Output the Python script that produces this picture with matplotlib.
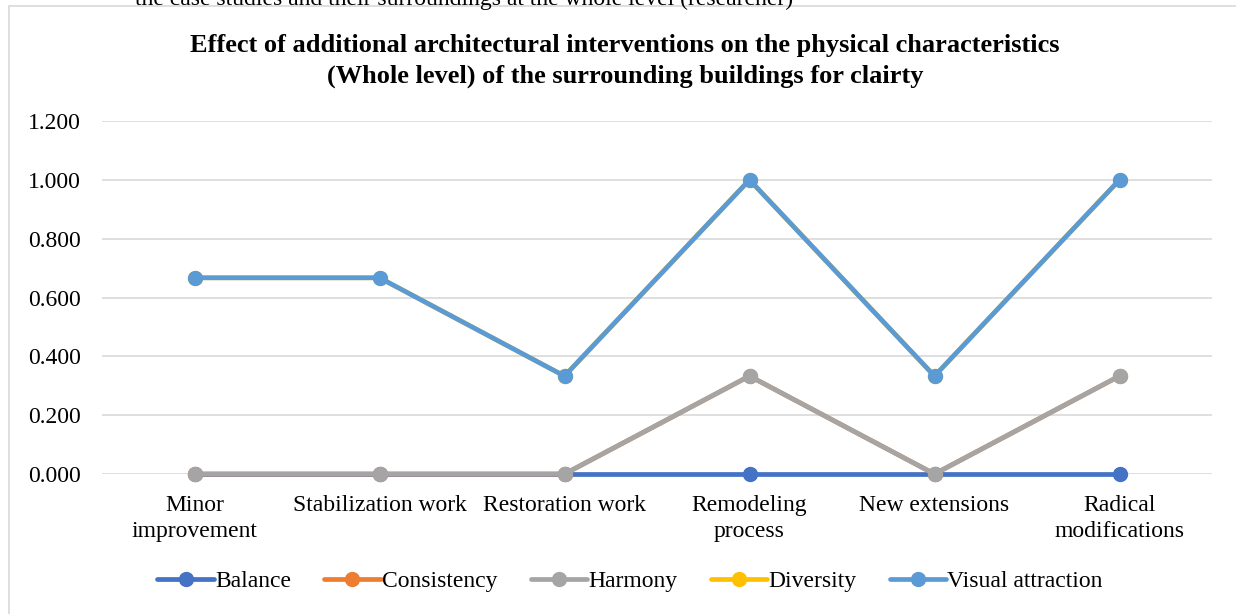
import numpy as np
import matplotlib.pyplot as plt
from matplotlib.patches import Rectangle

plt.rcParams['font.family'] = ['Liberation Serif', 'DejaVu Serif']

categories = ['Minor\nimprovement', 'Stabilization work', 'Restoration work',
              'Remodeling\nprocess', 'New extensions', 'Radical\nmodifications']
balance = [0.0, 0.0, 0.0, 0.0, 0.0, 0.0]
consistency = [0.0, 0.0, 0.0, 0.333, 0.0, 0.333]
harmony = [0.0, 0.0, 0.0, 0.333, 0.0, 0.333]
diversity = [0.667, 0.667, 0.333, 1.0, 0.333, 1.0]
visual = [0.667, 0.667, 0.333, 1.0, 0.333, 1.0]
yticks = [0.0, 0.2, 0.4, 0.6, 0.8, 1.0, 1.2]

series = [
    ('Balance', balance, '#4472c4'),
    ('Consistency', consistency, '#ed7d31'),
    ('Harmony', harmony, '#a5a5a5'),
    ('Diversity', diversity, '#ffc000'),
    ('Visual attraction', visual, '#5b9bd5'),
]

fig = plt.figure(figsize=(12.36, 6.14), dpi=100)

# chart border (partly cut off at right/bottom)
fig.patches.append(Rectangle((9 / 1236, -0.05), 1.1, 1 - 6 / 614 + 0.05,
                             transform=fig.transFigure, fill=False,
                             edgecolor='#d9d9d9', linewidth=1.2, zorder=0))

# leftover caption text from the page above the chart
fig.text(135 / 1236, 1 - 5 / 614,
         'the case studies and their surroundings at the whole level (researcher)',
         fontsize=17, ha='left', va='baseline')

ax = fig.add_axes([102 / 1236, 1 - 474 / 614, 1110 / 1236, 353 / 614])
x = np.arange(len(categories))
for name, vals, col in series:
    ax.plot(x, vals, color=col, linewidth=3.4, marker='o', markersize=10,
            label=name, solid_capstyle='round', clip_on=False)

ax.set_xlim(-0.5, len(categories) - 0.5)
ax.set_ylim(0, 1.2)
ax.set_yticks(yticks)
ax.set_yticklabels(['%.3f' % v for v in yticks], fontsize=17)
ax.set_xticks(x)
ax.set_xticklabels(categories, fontsize=17, linespacing=1.35)
ax.tick_params(axis='x', length=0, pad=15)
ax.tick_params(axis='y', length=0, pad=15)
ax.grid(axis='y', color='#d9d9d9', linewidth=1.2)
ax.set_axisbelow(True)
for s in ax.spines.values():
    s.set_visible(False)

fig.text(625 / 1236, 1 - 61 / 614,
         'Effect of additional architectural interventions on the physical characteristics\n'
         '(Whole level) of the surrounding buildings for clairty',
         fontsize=19, fontweight='bold', ha='center', va='center', linespacing=1.38)

fig.legend(loc='center', bbox_to_anchor=(630 / 1236, 1 - 581 / 614), ncol=5,
           frameon=False, fontsize=17, handlelength=2.4, handletextpad=0.05,
           columnspacing=1.4)

fig.savefig('out.png', dpi=100)
